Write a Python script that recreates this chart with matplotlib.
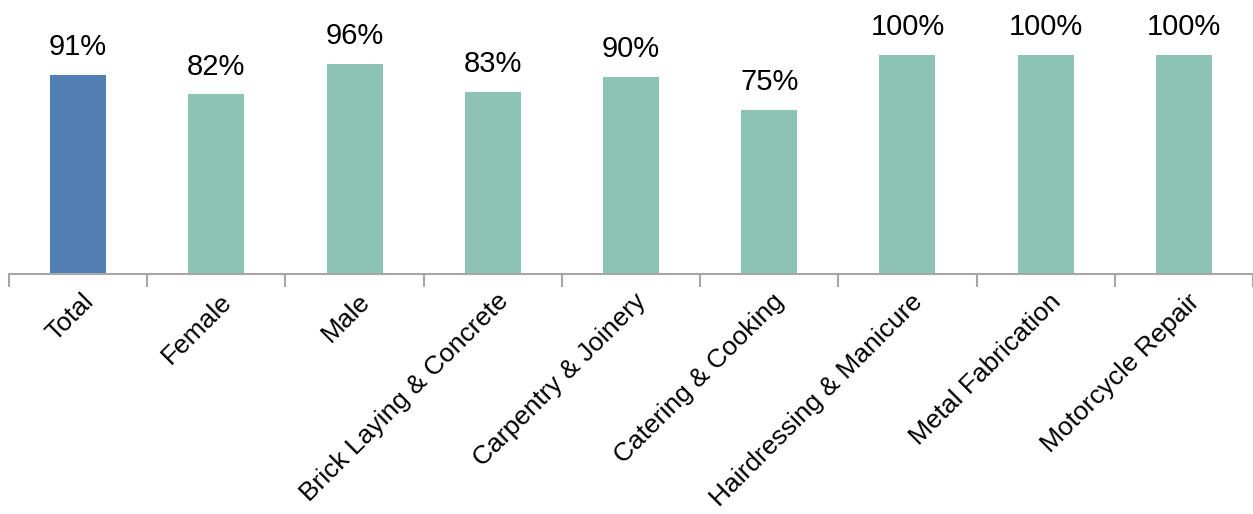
import matplotlib
matplotlib.use("Agg")
import matplotlib.pyplot as plt
import matplotlib.transforms as mtransforms
from matplotlib.ticker import FixedLocator
import numpy as np

categories = ["Total", "Female", "Male", "Brick Laying & Concrete", "Carpentry & Joinery",
              "Catering & Cooking", "Hairdressing & Manicure", "Metal Fabrication", "Motorcycle Repair"]
values = [91, 82, 96, 83, 90, 75, 100, 100, 100]
colors = ["#527fb3"] + ["#8cc3b4"] * 8

plt.rcParams['font.family'] = ['Liberation Sans', 'DejaVu Sans']

fig = plt.figure(figsize=(12.53, 5.14), dpi=100)
ax = fig.add_axes([9/1253, (514-274)/514, 1 - 9/1253, 274/514])

x = np.arange(len(categories))
bars = ax.bar(x, values, width=0.405, color=colors)
for xi, v in zip(x, values):
    ax.text(xi, v + 9, f"{v}%", ha='center', va='baseline', fontsize=21)

ax.set_xlim(-0.5, len(categories) - 0.5)
ax.set_ylim(0, 125)
for s in ['top', 'right', 'left']:
    ax.spines[s].set_visible(False)
ax.spines['bottom'].set_color('#a6a6a6')
ax.spines['bottom'].set_linewidth(1.5)
ax.set_yticks([])
ax.set_xticks(x)
ax.set_xticklabels(categories, rotation=45, ha='right', rotation_mode='anchor', fontsize=19)
ax.tick_params(axis='x', length=0, pad=11)
offset = mtransforms.ScaledTranslation(3/100, 0, fig.dpi_scale_trans)
for lbl in ax.get_xticklabels():
    lbl.set_transform(lbl.get_transform() + offset)
ax.xaxis.set_minor_locator(FixedLocator(np.arange(-0.5, len(categories), 1.0)))
ax.tick_params(axis='x', which='minor', length=9, width=1.5, color='#a6a6a6', direction='out')

fig.savefig("out.png", dpi=100)
